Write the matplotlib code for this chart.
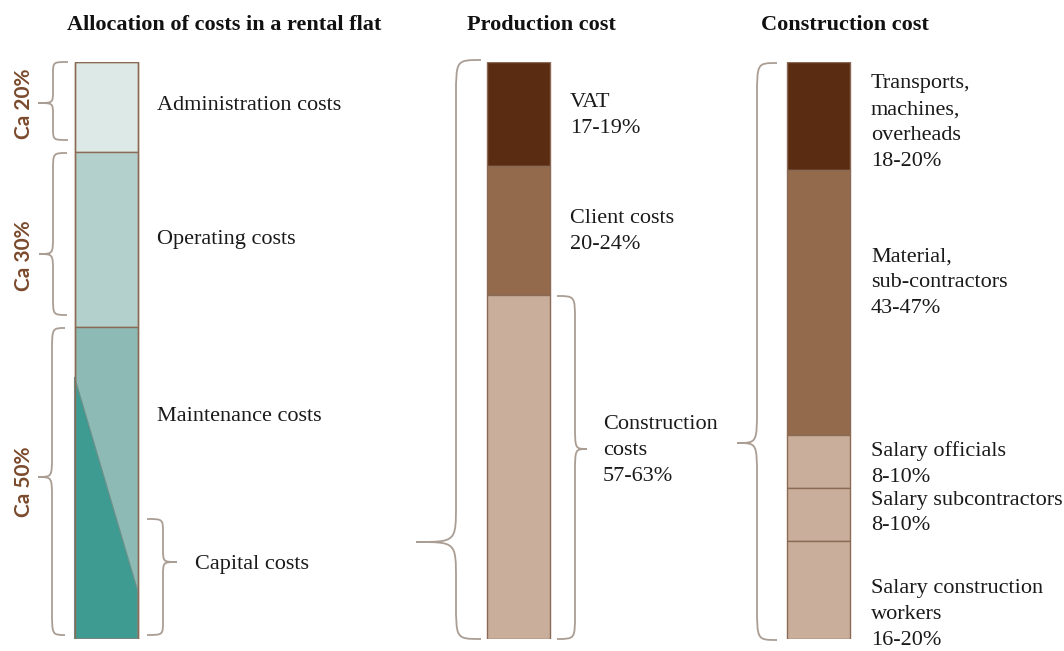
"""
Cost breakdown of a rental flat: three stacked columns with curly braces.
"""

import matplotlib.pyplot as plt
from matplotlib.path import Path
from matplotlib.patches import PathPatch, Polygon

# --- data (shares in % of column height) ---
rental_labels = ["Administration costs", "Operating costs", "Maintenance costs"]
rental_shares = [15.5, 30.4, 54.1]
rental_colors = ["#dde9e6", "#b4d0cc", "#8dbab4"]
ca_labels = ["Ca 20%", "Ca 30%", "Ca 50%"]
capital_label = "Capital costs"
capital_wedge = [54.6, 91.6]   # diagonal: left edge -> right edge

production_labels = ["VAT\n17-19%", "Client costs\n20-24%", "Construction\ncosts\n57-63%"]
production_shares = [18.0, 22.4, 59.6]
production_colors = ["#5a2c12", "#936a4c", "#c9af9b"]

construction_labels = ["Transports,\nmachines,\noverheads\n18-20%",
                       "Material,\nsub-contractors\n43-47%",
                       "Salary officials\n8-10%",
                       "Salary subcontractors\n8-10%",
                       "Salary construction\nworkers\n16-20%"]
construction_shares = [18.7, 45.9, 9.2, 9.2, 17.0]
construction_colors = ["#5a2c12", "#936a4c", "#c9af9b", "#c9af9b", "#c9af9b"]

titles = ["Allocation of costs in a rental flat", "Production cost", "Construction cost"]

# --- layout helpers (pixel layout -> axes coords) ---
TOP, BOT = 62.5, 638.5


def py(y):
    return (y - TOP) / (BOT - TOP) * 100


SERIF = "Liberation Serif"
BRACE_C = "#aa9d93"
EDGE_C = "#8a6a55"

fig = plt.figure(figsize=(10.64, 6.51), dpi=100)
ax = fig.add_axes([0, (651 - BOT) / 651, 1, (BOT - TOP) / 651])
ax.set_xlim(0, 1064)
ax.set_ylim(100, 0)
ax.axis("off")


def stack(x, shares, colors, edge=EDGE_C):
    bottoms = [sum(shares[:i]) for i in range(len(shares))]
    ax.bar([x] * len(shares), shares, bottom=bottoms, width=63,
           color=colors, edgecolor=edge, linewidth=1.0)
    return bottoms


def brace(x_end, x_mid, x_tip, y0, y1, y_tip, r_end, r_tip):
    pts = [(x_end, y0),
           (x_mid, y0), (x_mid, y0), (x_mid, y0 + r_end),
           (x_mid, y_tip - r_tip),
           (x_mid, y_tip), (x_mid, y_tip), (x_tip, y_tip),
           (x_mid, y_tip), (x_mid, y_tip), (x_mid, y_tip + r_tip),
           (x_mid, y1 - r_end),
           (x_mid, y1), (x_mid, y1), (x_end, y1)]
    codes = [Path.MOVETO] + [Path.CURVE4] * 3 + [Path.LINETO] + [Path.CURVE4] * 6 \
        + [Path.LINETO] + [Path.CURVE4] * 3
    verts = [(px, py(pyy)) for px, pyy in pts]
    ax.add_patch(PathPatch(Path(verts, codes), facecolor="none",
                           edgecolor=BRACE_C, linewidth=1.3, clip_on=False))


def label(x, y, s, **kw):
    ax.text(x, py(y), s, ha="left", va="center", fontsize=16, family=SERIF,
            linespacing=1.5, color="#1a1a1a", clip_on=False, **kw)


# column 1: rental flat
stack(106, rental_shares, rental_colors)
ax.add_patch(Polygon([(74.5, capital_wedge[0]), (137.5, capital_wedge[1]),
                      (137.5, 100), (74.5, 100)],
                     closed=True, facecolor="#3e9b91", edgecolor="#6f8f8a", linewidth=0.8))
ax.bar([106], [100], width=63, color="none", edgecolor=EDGE_C, linewidth=1.0)
for lab, y in zip(rental_labels, [106, 240, 417]):
    label(157, y, lab)
label(195, 565, capital_label)

brace(68, 53, 38, 62, 140, 103, 12, 12)
brace(67, 53, 39, 153, 315, 254, 18, 18)
brace(65, 52, 38, 328, 635, 477, 25, 22)
brace(147, 163, 177, 519, 635, 562, 14, 14)
for lab, y in zip(ca_labels, [104, 256, 482]):
    ax.text(24, py(y), lab, rotation=90, ha="center", va="center", fontsize=15,
            family="Lato", fontweight="bold", color="#7b4a2d", clip_on=False)

# column 2: production cost
stack(518.5, production_shares, production_colors)
for lab, (x, y) in zip(production_labels, [(570, 116), (570, 232), (603, 451)]):
    label(x, y, lab)
brace(481, 456, 416, 60, 639, 542, 37, 38)
brace(557, 575, 587, 296, 639, 449, 25, 25)

# column 3: construction cost
stack(818, construction_shares, construction_colors)
for lab, y in zip(construction_labels, [123, 283, 464, 513, 614]):
    label(871, y, lab)
brace(777, 757, 737, 63, 640, 443, 35, 35)

# titles
for t, x in zip(titles, [224, 541.5, 844.5]):
    ax.text(x, py(25), t, ha="center", va="center", fontsize=16, family=SERIF,
            fontweight="bold", color="#111111", clip_on=False)

fig.savefig("out.png", dpi=100)
